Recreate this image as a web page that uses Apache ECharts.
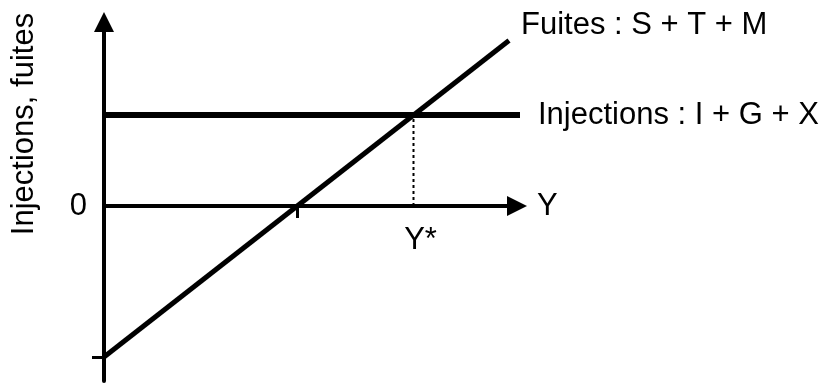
<!DOCTYPE html>
<html>
<head>
<meta charset="utf-8">
<script src="https://cdn.jsdelivr.net/npm/echarts@6/dist/echarts.min.js"></script>
<style>
  html, body { margin: 0; padding: 0; background: #fff; }
  #main { width: 840px; height: 383px; }
</style>
</head>
<body>
<div id="main"></div>
<script>
// courbes du circuit : fuites = S + T + M, injections = I + G + X
var fuitesX = [0, 8.1];
var fuitesY = [-3.02, 3.31];
var injectionsX = [0, 8.52];
var injectionsY = [1.82, 1.82];
var yEtoile = 6.19;          // revenu d'équilibre Y*
var yZero = 3.86;            // fuites nulles
var ordonneeOrigine = -3.02; // fuites pour Y = 0

var police = 'Liberation Sans, Arial, sans-serif';
var chart = echarts.init(document.getElementById('main'));

function pts(xs, ys) {
  var out = [];
  for (var i = 0; i < xs.length; i++) out.push([xs[i], ys[i]]);
  return out;
}

var option = {
  animation: false,
  grid: { left: 104, top: 22, right: 323, bottom: 2, containLabel: false, outerBoundsMode: 'none' },
  xAxis: {
    type: 'value',
    min: 0,
    max: 8.26,
    name: 'Y',
    nameLocation: 'end',
    nameGap: 20,
    nameTextStyle: { fontFamily: police, fontSize: 31, color: '#000' },
    splitLine: { show: false },
    axisLine: {
      onZero: true,
      symbol: ['none', 'triangle'],
      symbolSize: [20, 20],
      lineStyle: { color: '#000', width: 4 }
    },
    axisTick: {
      show: true,
      inside: false,
      length: 12,
      customValues: [yZero],
      lineStyle: { color: '#000', width: 3 }
    },
    axisLabel: { show: false }
  },
  yAxis: {
    type: 'value',
    min: -3.5,
    max: 3.68,
    splitLine: { show: false },
    axisLine: {
      onZero: true,
      symbol: ['none', 'triangle'],
      symbolSize: [20, 20],
      lineStyle: { color: '#000', width: 4 }
    },
    axisTick: {
      show: true,
      length: 12,
      customValues: [ordonneeOrigine],
      lineStyle: { color: '#000', width: 3 }
    },
    axisLabel: {
      show: true,
      customValues: [0],
      margin: 17,
      formatter: function () { return '0'; },
      fontFamily: police,
      fontSize: 31,
      color: '#000'
    }
  },
  graphic: [{
    type: 'text',
    x: 24,
    y: 124,
    rotation: Math.PI / 2,
    style: {
      text: 'Injections, fuites',
      font: '31px ' + police,
      fill: '#000',
      align: 'center',
      verticalAlign: 'middle'
    }
  }],
  series: [
    {
      name: 'Injections',
      type: 'line',
      data: pts(injectionsX, injectionsY),
      showSymbol: false,
      clip: false,
      lineStyle: { color: '#000', width: 6, cap: 'butt' },
      endLabel: {
        show: true,
        formatter: 'Injections : I + G + X',
        distance: 18,
        fontFamily: police,
        fontSize: 31,
        color: '#000'
      }
    },
    {
      name: 'Fuites',
      type: 'line',
      data: pts(fuitesX, fuitesY),
      showSymbol: false,
      clip: false,
      lineStyle: { color: '#000', width: 5, cap: 'butt' },
      endLabel: {
        show: true,
        formatter: 'Fuites : S + T + M',
        distance: 12,
        offset: [0, -15],
        fontFamily: police,
        fontSize: 31,
        color: '#000'
      }
    },
    {
      name: 'Equilibre',
      type: 'line',
      data: [[yEtoile, 0], [yEtoile, injectionsY[0]]],
      showSymbol: false,
      lineStyle: { color: '#000', width: 2, type: [3, 3] }
    },
    {
      name: 'Y*',
      type: 'scatter',
      data: [[yEtoile, 0]],
      symbolSize: 1,
      itemStyle: { color: '#000', opacity: 1 },
      label: {
        show: true,
        position: 'bottom',
        distance: 18,
        offset: [7, 0],
        formatter: 'Y*',
        fontFamily: police,
        fontSize: 31,
        color: '#000',
        opacity: 1
      }
    }
  ]
};

chart.setOption(option);
</script>
</body>
</html>
